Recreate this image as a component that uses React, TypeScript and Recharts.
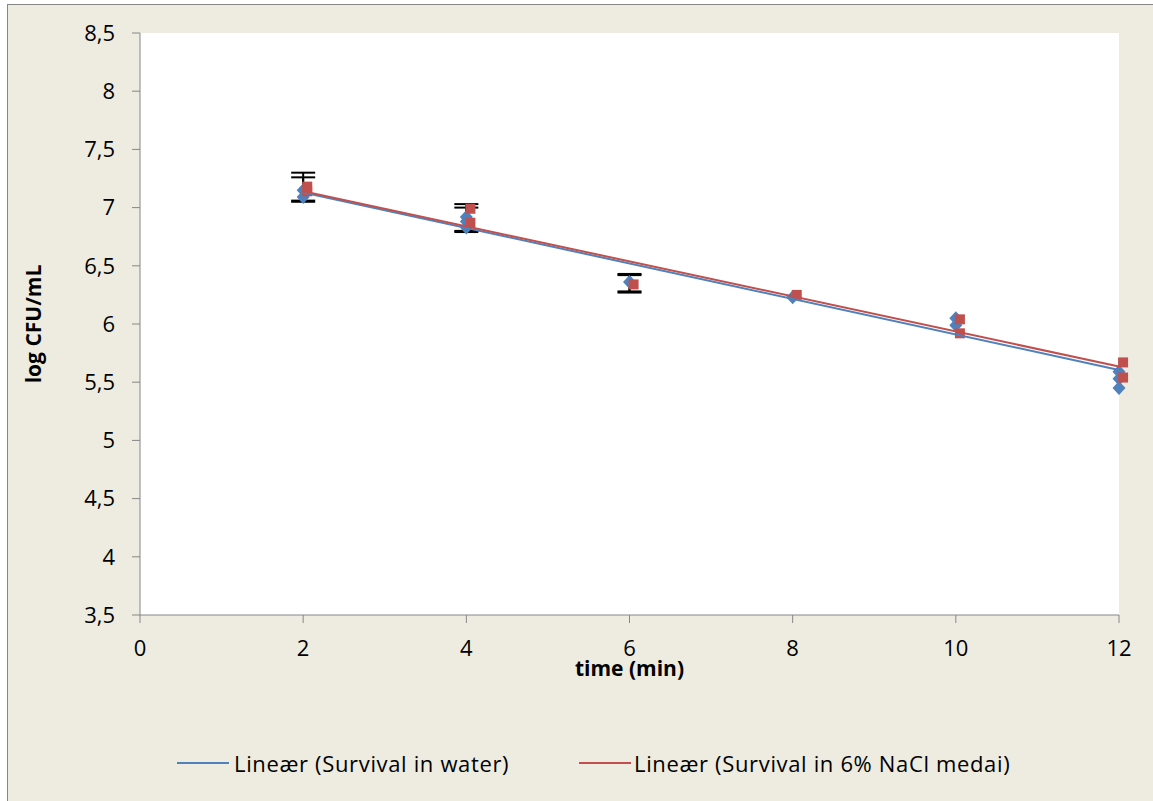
import React from 'react';
import { ErrorBar, Legend, Scatter, ScatterChart, XAxis, YAxis } from 'recharts';

// measured points (time in min, log CFU/mL)
const waterX = [2, 2, 4, 4, 4, 6, 8, 10, 10, 12, 12, 12];
const waterY = [7.15, 7.09, 6.92, 6.88, 6.83, 6.36, 6.23, 6.05, 5.99, 5.59, 5.53, 5.45];
const saltX = [2.05, 2.05, 4.05, 4.05, 6.05, 8.05, 10.05, 10.05, 12.05, 12.05];
const saltY = [7.18, 7.14, 6.99, 6.87, 6.34, 6.25, 6.04, 5.92, 5.67, 5.54];

// error bars (mean, minus, plus)
const errX = [2, 2, 4, 4, 6, 6];
const errMean = [7.15, 7.13, 6.92, 6.9, 6.36, 6.35];
const errLow = [0.1, 0.07, 0.13, 0.1, 0.09, 0.07];
const errHigh = [0.15, 0.13, 0.11, 0.1, 0.07, 0.07];

// linear trendlines
const trendX = [2, 12];
const waterTrend = [7.13, 5.605];
const saltTrend = [7.14, 5.635];

const xTicks = [0, 2, 4, 6, 8, 10, 12];
const yTicks = [3.5, 4, 4.5, 5, 5.5, 6, 6.5, 7, 7.5, 8, 8.5];

const waterName = 'Lineær (Survival in water)';
const saltName = 'Lineær (Survival in 6% NaCl medai)';

const BLUE = '#4F81BD';
const RED = '#C0504D';
const AXIS = '#868686';

const waterData = waterX.map((x, i) => ({ x, y: waterY[i] }));
const saltData = saltX.map((x, i) => ({ x, y: saltY[i] }));
const errData = errX.map((x, i) => ({ x, y: errMean[i], err: [errLow[i], errHigh[i]] }));
const waterLine = trendX.map((x, i) => ({ x, y: waterTrend[i] }));
const saltLine = trendX.map((x, i) => ({ x, y: saltTrend[i] }));

const Diamond = (props: any) => {
  const { cx, cy } = props;
  return <path d={`M${cx},${cy - 7} L${cx + 6.5},${cy} L${cx},${cy + 7} L${cx - 6.5},${cy} Z`} fill={BLUE} />;
};

const Square = (props: any) => {
  const { cx, cy } = props;
  return <rect x={cx - 5} y={cy - 5} width={10} height={10} fill={RED} />;
};

const NoShape = () => <g />;

const fmt = (v: number) => String(v).replace('.', ',');

const LegendBox = () => (
  <div style={{ position: 'relative', height: 30, fontSize: 22, letterSpacing: 0.65, color: '#000' }}>
    <div style={{ position: 'absolute', left: 169, top: 14, width: 52, height: 2, background: BLUE }} />
    <div style={{ position: 'absolute', left: 226, top: 0, lineHeight: '30px', whiteSpace: 'nowrap' }}>{waterName}</div>
    <div style={{ position: 'absolute', left: 571, top: 14, width: 52, height: 2, background: RED }} />
    <div style={{ position: 'absolute', left: 626, top: 0, lineHeight: '30px', whiteSpace: 'nowrap' }}>{saltName}</div>
  </div>
);

export default function App() {
  return (
    <div
      style={{
        position: 'absolute',
        left: 7,
        top: 4,
        width: 1146,
        height: 797,
        background: '#EEECE1',
        borderLeft: `1px solid ${AXIS}`,
        borderTop: `1px solid ${AXIS}`,
        boxSizing: 'border-box',
        fontFamily: '"Open Sans", sans-serif',
        overflow: 'hidden',
      }}
    >
      <style>{'.recharts-scatter, .recharts-scatter * { clip-path: none !important; }'}</style>
      <ScatterChart width={1145} height={796} margin={{ top: 28, right: 34, left: 8, bottom: 23 }}>
        <rect x={132} y={28} width={979} height={582} fill="#fff" />
        <XAxis
          type="number"
          dataKey="x"
          domain={[0, 12]}
          allowDataOverflow
          ticks={xTicks}
          height={133}
          stroke={AXIS}
          tickSize={8}
          tickMargin={17}
          tick={{ fill: '#000', fontSize: 22 }}
          label={{ value: 'time (min)', position: 'insideTop', offset: 46, style: { fontWeight: 'bold', fontSize: 21, fill: '#000' } }}
        />
        <YAxis
          type="number"
          dataKey="y"
          domain={[3.5, 8.5]}
          ticks={yTicks}
          width={124}
          stroke={AXIS}
          tickSize={8}
          tickMargin={17}
          tickFormatter={fmt}
          tick={{ fill: '#000', fontSize: 22 }}
          label={{ value: 'log CFU/mL', angle: -90, position: 'insideLeft', offset: 18, style: { textAnchor: 'middle', fontWeight: 'bold', fontSize: 21, fill: '#000' } }}
        />
        <Scatter data={errData} shape={NoShape} legendType="none" isAnimationActive={false}>
          <ErrorBar dataKey="err" direction="y" width={12} stroke="#000" strokeWidth={2} />
        </Scatter>
        <Scatter data={waterData} shape={Diamond} legendType="none" isAnimationActive={false} />
        <Scatter data={saltData} shape={Square} legendType="none" isAnimationActive={false} />
        <Scatter name={waterName} data={waterLine} line={{ stroke: BLUE, strokeWidth: 2 }} shape={NoShape} isAnimationActive={false} />
        <Scatter name={saltName} data={saltLine} line={{ stroke: RED, strokeWidth: 2 }} shape={NoShape} isAnimationActive={false} />
        <Legend verticalAlign="bottom" height={30} width={1145} wrapperStyle={{ left: 0 }} content={LegendBox} />
      </ScatterChart>
    </div>
  );
}
